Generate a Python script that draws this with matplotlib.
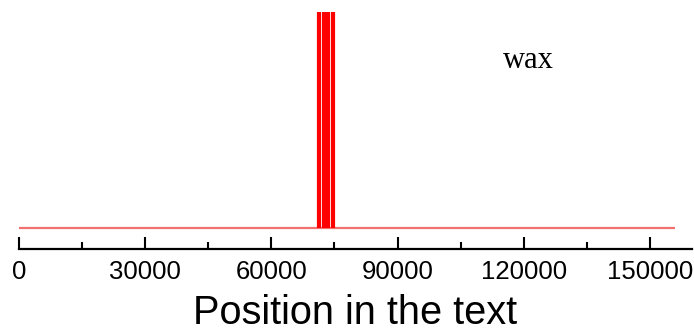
import matplotlib
matplotlib.use("Agg")
import matplotlib.pyplot as plt
from matplotlib.ticker import MultipleLocator

# Data: occurrences of the word "wax" (positions in the text)
word = "wax"
positions = [71300, 72500, 73450, 74650]
text_length = 156000
major_ticks = [0, 30000, 60000, 90000, 120000, 150000]

fig = plt.figure(figsize=(6.94, 3.31), dpi=100)
ax = fig.add_axes([19/694, (331-249)/331, 673/694, (249-12)/331])

ax.plot([0, text_length], [0, 0], color=(0.93, 0.25, 0.25), alpha=0.75, lw=1.6, solid_capstyle='butt')
ax.vlines(positions, 0, 1, color='red', lw=3.0)

ax.set_xlim(0, 160000)
ax.set_ylim(-0.0972, 1.0)
for s in ['top', 'right', 'left']:
    ax.spines[s].set_visible(False)
ax.spines['bottom'].set_linewidth(1.6)
ax.set_yticks([])
ax.set_xticks(major_ticks)
ax.set_xticklabels([str(t) for t in major_ticks])
ax.xaxis.set_minor_locator(MultipleLocator(15000))
ax.tick_params(axis='x', which='major', direction='in', length=9, width=1.5, pad=8,
               labelsize=18.5, labelfontfamily='Liberation Sans')
ax.tick_params(axis='x', which='minor', direction='in', length=5, width=1.5)
ax.set_xlabel("Position in the text", fontsize=28.6, family='Liberation Sans', labelpad=7)

ax.text(528/694, (331-60)/331, word, transform=fig.transFigure, ha='center', va='center',
        fontsize=22, family='Liberation Serif')

fig.savefig("out.png", dpi=100)
